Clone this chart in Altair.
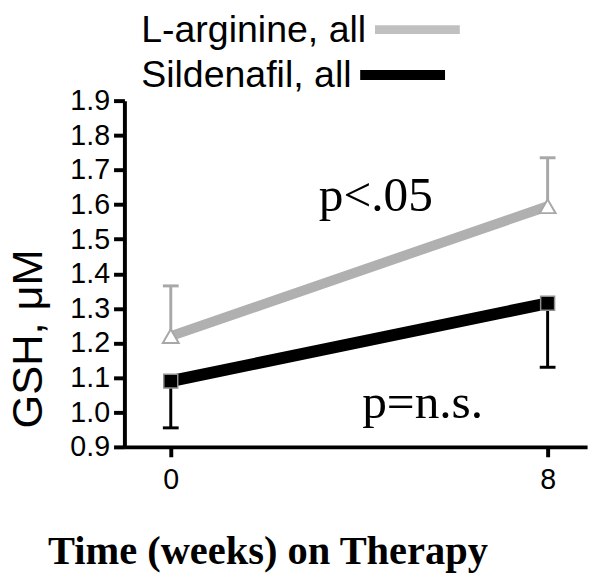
import altair as alt
import pandas as pd

weeks = [0, 8]
series = ["L-arginine, all", "Sildenafil, all"]
larg_mean = [1.22, 1.595]
larg_err_end = [1.365, 1.735]
sild_mean = [1.09, 1.315]
sild_err_end = [0.955, 1.13]
colors = ["#b0b0b0", "#000000"]
y_ticks = [0.9, 1.0, 1.1, 1.2, 1.3, 1.4, 1.5, 1.6, 1.7, 1.8, 1.9]
x_ticks = [0, 8]
annotations = ["p<.05", "p=n.s."]
x_title = "Time (weeks) on Therapy"
y_title = "GSH, \u03bcM"

larg = pd.DataFrame({"week": weeks, "mean": larg_mean, "err": larg_err_end})
sild = pd.DataFrame({"week": weeks, "mean": sild_mean, "err": sild_err_end})

xscale = alt.Scale(domain=[-0.984, 8.838], nice=False, zero=False)
yscale = alt.Scale(domain=[0.9, 1.9], nice=False, zero=False)

x_axis = alt.Axis(values=x_ticks, format="d", title=x_title, grid=False,
                  domainColor="black", domainWidth=4, tickColor="black", tickWidth=4,
                  tickSize=10, labelFont="Liberation Sans", labelFontSize=29,
                  labelColor="black", labelPadding=9,
                  titleFont="Liberation Serif", titleFontWeight="bold", titleFontSize=41,
                  titleColor="black", titleX=145, titleY=118, titleAlign="center",
                  titleBaseline="alphabetic")
y_axis = alt.Axis(values=y_ticks, format=".1f", title=y_title, grid=False,
                  domainColor="black", domainWidth=4, tickColor="black", tickWidth=4,
                  tickSize=11, labelFont="Liberation Sans", labelFontSize=29,
                  labelColor="black", labelPadding=4,
                  titleFont="Liberation Sans", titleFontWeight="normal", titleFontSize=44,
                  titleColor="black", titleAngle=270, titleX=-97, titleY=241,
                  titleAlign="center", titleBaseline="middle")

X = alt.X("week:Q", scale=xscale, axis=x_axis)
Y = alt.Y("mean:Q", scale=yscale, axis=y_axis)
YE = alt.Y("err:Q", scale=yscale, axis=y_axis)

larg_line = alt.Chart(larg).mark_line(color=colors[0], strokeWidth=10).encode(x=X, y=Y)
sild_line = alt.Chart(sild).mark_line(color=colors[1], strokeWidth=12).encode(x=X, y=Y)

larg_bar = alt.Chart(larg).mark_rule(color="#a8a8a8", strokeWidth=3).encode(
    x=X, y=Y, y2="err:Q")
larg_cap = alt.Chart(larg).mark_rule(color="#a8a8a8", strokeWidth=3, xOffset=-8, x2Offset=8).encode(
    x=X, x2="week:Q", y=YE)
sild_bar = alt.Chart(sild).mark_rule(color="black", strokeWidth=3).encode(
    x=X, y=Y, y2="err:Q")
sild_cap = alt.Chart(sild).mark_rule(color="black", strokeWidth=3, xOffset=-8, x2Offset=8).encode(
    x=X, x2="week:Q", y=YE)

larg_pts = alt.Chart(larg).mark_point(shape="triangle-up", filled=True, fill="white",
                                      stroke="#a8a8a8", strokeWidth=2, size=260, opacity=1).encode(x=X, y=Y)
sild_pts = alt.Chart(sild).mark_point(shape="square", filled=True, fill="black",
                                      stroke="#909090", strokeWidth=1.5, size=200, opacity=1).encode(x=X, y=Y)

leg1 = alt.Chart(pd.DataFrame({"label": [series[0]]})).mark_text(
    align="left", baseline="alphabetic", font="Liberation Sans", fontSize=38, color="black").encode(
    text="label:N", x=alt.value(17), y=alt.value(-59))
leg2 = alt.Chart(pd.DataFrame({"label": [series[1]]})).mark_text(
    align="left", baseline="alphabetic", font="Liberation Sans", fontSize=38, color="black").encode(
    text="label:N", x=alt.value(17), y=alt.value(-14))
sw1 = alt.Chart(pd.DataFrame({"label": [series[0]]})).mark_rule(color="#c0c0c0", strokeWidth=9).encode(
    x=alt.value(254), x2=alt.value(340), y=alt.value(-72))
sw2 = alt.Chart(pd.DataFrame({"label": [series[1]]})).mark_rule(color="black", strokeWidth=10).encode(
    x=alt.value(239), x2=alt.value(325), y=alt.value(-26))

ann1 = alt.Chart(pd.DataFrame({"t": [annotations[0]]})).mark_text(
    align="left", baseline="alphabetic", font="Liberation Serif", fontSize=50, color="black").encode(
    text="t:N", x=alt.value(197), y=alt.value(112))
ann2 = alt.Chart(pd.DataFrame({"t": [annotations[1]]})).mark_text(
    align="left", baseline="alphabetic", font="Liberation Serif", fontSize=50, color="black").encode(
    text="t:N", x=alt.value(241), y=alt.value(322))

chart = alt.layer(
    larg_line, sild_line, larg_bar, larg_cap, sild_bar, sild_cap, larg_pts, sild_pts,
    leg1, leg2, sw1, sw2, ann1, ann2
).properties(
    width=469, height=351,
    padding={"left": 118, "top": 90, "right": 7, "bottom": 130},
    autosize=alt.AutoSizeParams(type="none"),
    background="white",
).configure_view(stroke=None)

chart.save("out.html", embed_options={"renderer": "svg", "actions": False})
